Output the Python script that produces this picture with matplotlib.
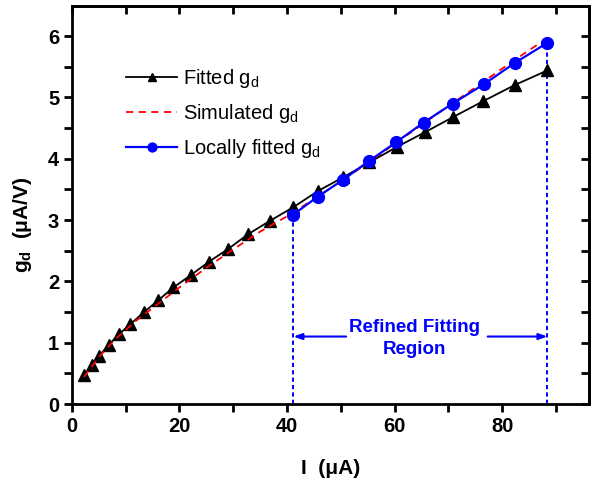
import matplotlib
matplotlib.use("Agg")
import matplotlib.pyplot as plt
from matplotlib.ticker import MultipleLocator
from matplotlib.font_manager import FontProperties

plt.rcParams['font.family'] = ['Liberation Sans', 'DejaVu Sans']
plt.rcParams['mathtext.default'] = 'regular'

# Fitted g_d (black triangles)
fit_I = [2.36, 3.72, 5.15, 6.88, 8.74, 10.86, 13.46, 16.06, 18.9, 22.1, 25.5, 29.1,
         32.8, 36.9, 41.2, 45.7, 50.5, 55.3, 60.4, 65.6, 70.9, 76.5, 82.3, 88.4]
fit_g = [0.465, 0.63, 0.79, 0.966, 1.134, 1.30, 1.50, 1.69, 1.90, 2.10, 2.32, 2.53,
         2.77, 2.99, 3.21, 3.47, 3.70, 3.94, 4.19, 4.43, 4.68, 4.94, 5.20, 5.44]

# Simulated g_d (red dashed)
sim_I = [2.3, 5, 8, 12, 16, 20, 25, 30, 35, 40, 45, 50, 55, 60, 65, 70, 75, 80, 85, 88.5]
sim_g = [0.44, 0.76, 1.05, 1.36, 1.63, 1.90, 2.22, 2.52, 2.81, 3.06, 3.34, 3.63,
         3.93, 4.24, 4.55, 4.86, 5.16, 5.47, 5.77, 5.97]

# Locally fitted g_d (blue circles)
loc_I = [41.2, 45.7, 50.5, 55.2, 60.3, 65.4, 70.8, 76.7, 82.3, 88.4]
loc_g = [3.09, 3.38, 3.66, 3.96, 4.27, 4.59, 4.90, 5.22, 5.56, 5.89]

region_I = [41.2, 88.4]
region_g = [3.09, 5.89]

fig = plt.figure(figsize=(5.93, 4.84), dpi=100)
ax = fig.add_axes([71.7/593, 1-404/484, (589.4-71.7)/593, (404-6)/484])

ax.plot(fit_I, fit_g, color='black', lw=1.3, marker='^', ms=8.5, label=r'Fitted g$_{d}$', zorder=3)
ax.plot(sim_I, sim_g, color='red', lw=1.3, ls=(0, (4, 3)), label=r'Simulated g$_{d}$', zorder=4)
ax.plot(loc_I, loc_g, color='#0000ff', lw=1.6, marker='o', ms=8.5, label=r'Locally fitted g$_{d}$', zorder=5)

for xi, yi in zip(region_I, region_g):
    ax.plot([xi, xi], [0, yi], color='#0000ff', lw=1.4, ls=(0, (2.2, 1.6)), zorder=2)

arrow_y = 1.10
ax.annotate('', xy=(region_I[0], arrow_y), xytext=(51.0, arrow_y),
            arrowprops=dict(arrowstyle='-|>,head_length=0.5,head_width=0.18', color='#0000ff', lw=1.5,
                            shrinkA=0, shrinkB=0))
ax.annotate('', xy=(region_I[1], arrow_y), xytext=(77.3, arrow_y),
            arrowprops=dict(arrowstyle='-|>,head_length=0.5,head_width=0.18', color='#0000ff', lw=1.5,
                            shrinkA=0, shrinkB=0))
ax.text(63.7, 1.07, 'Refined Fitting\nRegion', color='#0000ff', fontsize=13.5, fontweight='bold',
        ha='center', va='center', linespacing=1.4)

ax.set_xlim(0, 96.2)
ax.set_ylim(0, 6.49)
ax.xaxis.set_major_locator(MultipleLocator(20))
ax.xaxis.set_minor_locator(MultipleLocator(10))
ax.yaxis.set_major_locator(MultipleLocator(1))
ax.yaxis.set_minor_locator(MultipleLocator(0.5))

for sp in ax.spines.values():
    sp.set_linewidth(2.0)

ax.tick_params(axis='both', which='both', direction='out', width=2.0, length=6,
               top=False, right=False)
ax2 = ax.secondary_xaxis('top')
ax2.xaxis.set_major_locator(MultipleLocator(20))
ax2.xaxis.set_minor_locator(MultipleLocator(10))
ax2.tick_params(which='both', direction='in', width=2.0, length=6, labeltop=False)
ax3 = ax.secondary_yaxis('right')
ax3.yaxis.set_major_locator(MultipleLocator(1))
ax3.yaxis.set_minor_locator(MultipleLocator(0.5))
ax3.tick_params(which='both', direction='in', width=2.0, length=6, labelright=False)
for a in (ax2, ax3):
    for sp in a.spines.values():
        sp.set_linewidth(2.0)

tick_fp = FontProperties(family=['Liberation Sans', 'DejaVu Sans'], weight='bold', size=14.5)
for lab in ax.get_xticklabels() + ax.get_yticklabels():
    lab.set_fontproperties(tick_fp)
ax.tick_params(axis='both', which='major', pad=3)

ax.set_xlabel('I  (μA)', fontsize=15, fontweight='bold', labelpad=17)
ax.set_ylabel(r'g$_{d}$  (μA/V)', fontsize=15, fontweight='bold')
ax.yaxis.set_label_coords(-0.072, 0.45)

leg = ax.legend(loc='upper left', bbox_to_anchor=(0.09, 0.868), frameon=False, fontsize=14.5,
                handlelength=2.5, handletextpad=0.3, labelspacing=0.6, borderaxespad=0,
                markerscale=0.75)

fig.savefig('out.png', dpi=100)
